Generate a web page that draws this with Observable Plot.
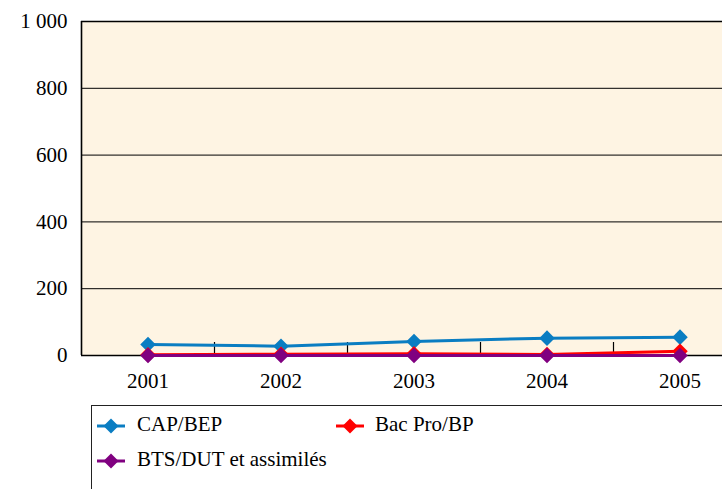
<!DOCTYPE html>
<html>
<head>
<meta charset="utf-8">
<script src="https://cdn.jsdelivr.net/npm/d3@7"></script>
<script src="https://cdn.jsdelivr.net/npm/@observablehq/plot@0.6"></script>
<style>
  html, body { margin: 0; padding: 0; background: #fff; overflow: hidden; width: 722px; height: 489px; }
  #chart svg { display: block; overflow: hidden; }
  #chart svg text { font-family: "Liberation Serif", "Times New Roman", Times, serif !important; }
  #legend { position: absolute; left: 91px; top: 405px; width: 700px; height: 120px; border: 1px solid #222; border-right: none; border-bottom: none; font-family: "Liberation Serif", "Times New Roman", Times, serif; font-size: 21px; line-height: 24px; color: #000; }
  .sym { position: absolute; }
  .lab { position: absolute; white-space: nowrap; }
</style>
</head>
<body>
<div id="chart"></div>
<div id="legend"></div>
<script>
const years = [2001, 2002, 2003, 2004, 2005];
const seriesNames = ["CAP/BEP", "Bac Pro/BP", "BTS/DUT et assimilés"];
const seriesColors = ["#0A7DC2", "#FF0000", "#800080"];
const capBep = [33, 28, 42, 52, 55];
const bacPro = [2, 4, 5, 3, 13];
const btsDut = [0, 0, 0, 0, 0];
const yTicks = [0, 200, 400, 600, 800, 1000];
const xBetween = [2001.5, 2002.5, 2003.5, 2004.5];

const seriesValues = [capBep, bacPro, btsDut];
const data = seriesNames.flatMap((name, i) =>
  years.map((year, j) => ({ name, year, value: seriesValues[i][j] })));

const fmt = d => d3.format(",")(d).replace(/,/g, " ");

const marks = [
  Plot.frame({ fill: "#FEF4E3", stroke: null }),
  Plot.gridY(yTicks, { stroke: "#000", strokeOpacity: 1, strokeWidth: 1 }),
  Plot.ruleX([2000.5], { stroke: "#000", strokeWidth: 1.6 }),
  Plot.ruleY([1000], { stroke: "#000", strokeWidth: 1.6 }),
  Plot.ruleY([0], { stroke: "#000", strokeWidth: 1.6 }),
  Plot.tickX(xBetween, { stroke: "#000", strokeWidth: 1.2, insetTop: 321 }),
  Plot.axisY(yTicks, { tickSize: 0, tickPadding: 14, tickFormat: fmt, fontSize: 21, label: null }),
  Plot.axisX(years, { tickSize: 0, tickPadding: 18, tickFormat: d => String(d), fontSize: 21, label: null })
];
seriesNames.forEach((name, i) => {
  const d = data.filter(r => r.name === name);
  marks.push(Plot.line(d, { x: "year", y: "value", stroke: seriesColors[i], strokeWidth: 3 }));
  marks.push(Plot.dot(d, { x: "year", y: "value", fill: seriesColors[i], stroke: null, symbol: "diamond2", r: 7 }));
});

const chart = Plot.plot({
  width: 722,
  height: 400,
  marginLeft: 81,
  marginRight: 0,
  marginTop: 21,
  marginBottom: 45,
  style: { fontSize: "21px", color: "#000", background: "#fff" },
  x: { domain: [2000.5, 2005.5], range: [81, 746], axis: null, label: null },
  y: { domain: [0, 1000], axis: null, label: null },
  marks
});
document.getElementById("chart").appendChild(chart);

const legend = document.getElementById("legend");
// [symbol center x, symbol center y, label left, label top] relative to legend box content
const layout = [[19, 19, 45, 6], [258, 19, 283, 6], [19, 54, 45, 41]];
seriesNames.forEach((name, i) => {
  const c = seriesColors[i];
  const [sx, sy, lx, ly] = layout[i];
  const sym = document.createElement("div");
  sym.className = "sym";
  sym.style.left = (sx - 15) + "px";
  sym.style.top = (sy - 9) + "px";
  sym.innerHTML = `<svg width="30" height="18" viewBox="0 0 30 18"><line x1="1" y1="9" x2="29" y2="9" stroke="${c}" stroke-width="3"/><path d="M15 1.5 L22.5 9 L15 16.5 L7.5 9 Z" fill="${c}"/></svg>`;
  legend.appendChild(sym);
  const lab = document.createElement("div");
  lab.className = "lab";
  lab.style.left = lx + "px";
  lab.style.top = ly + "px";
  lab.textContent = name;
  legend.appendChild(lab);
});
</script>
</body>
</html>
